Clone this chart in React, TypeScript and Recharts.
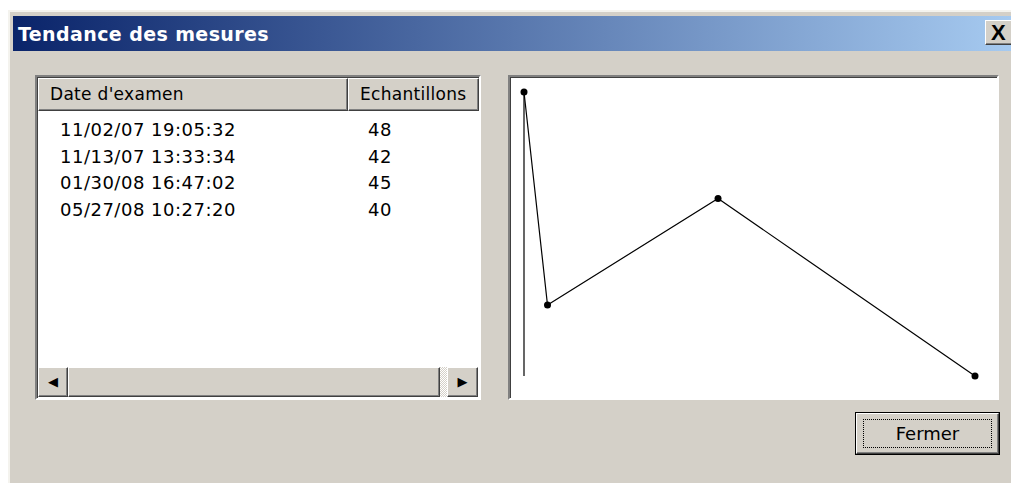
import { LineChart, Line, XAxis, YAxis } from 'recharts';

const examDates = [
  '11/02/07 19:05:32',
  '11/13/07 13:33:34',
  '01/30/08 16:47:02',
  '05/27/08 10:27:20'
];
const sampleCounts = [48, 42, 45, 40];
const yDomain = [40, 48];

const toTime = (s: string) => {
  const [d, t] = s.split(' ');
  const [mm, dd, yy] = d.split('/').map(Number);
  const [h, m, sec] = t.split(':').map(Number);
  return Date.UTC(2000 + yy, mm - 1, dd, h, m, sec);
};

const data = examDates.map((d, i) => ({ t: toTime(d), n: sampleCounts[i] }));

const gray = '#D4D0C8';
const font = '"DejaVu Sans", Tahoma, sans-serif';

const raised = {
  borderTop: '1px solid #fff',
  borderLeft: '1px solid #fff',
  borderRight: '1px solid #404040',
  borderBottom: '1px solid #404040',
  boxShadow: 'inset -1px -1px 0 #808080',
  background: gray,
  boxSizing: 'border-box' as const
};

const sunken = {
  borderTop: '2px solid #808080',
  borderLeft: '2px solid #808080',
  borderRight: '2px solid #fff',
  borderBottom: '2px solid #fff',
  boxShadow: 'inset 1px 1px 0 #404040',
  boxSizing: 'border-box' as const
};

const abs = (left: number, top: number, width: number, height: number) => ({
  position: 'absolute' as const,
  left,
  top,
  width,
  height
});

export default function App() {
  return (
    <div style={{ position: 'absolute', left: 0, top: 0, width: 1011, height: 483, background: '#fff', overflow: 'hidden', fontFamily: font }}>
      {/* window */}
      <div style={{ ...abs(8, 10, 1020, 490), background: gray, borderTop: '2px solid #f4f3ee', borderLeft: '2px solid #f4f3ee', boxSizing: 'border-box' }} />
      {/* title bar */}
      <div style={{ ...abs(13, 16, 998, 35), background: 'linear-gradient(to right, #0A246A, #A6CAF0)' }} />
      <div style={{ ...abs(18, 22, 400, 24), color: '#fff', fontWeight: 'bold', fontSize: 19, lineHeight: '24px', whiteSpace: 'nowrap', letterSpacing: 0.4 }}>
        Tendance des mesures
      </div>
      <div style={{ ...abs(985, 20, 30, 25), ...raised, fontFamily: '"Liberation Sans", Arial, sans-serif', fontSize: 22, fontWeight: 'bold', lineHeight: '23px', paddingLeft: 5 }}>
        X
      </div>

      {/* list view */}
      <div style={{ ...abs(35, 75, 446, 325), ...sunken, background: '#fff' }} />
      <div style={{ ...abs(38, 78, 310, 33), ...raised, fontSize: 17, lineHeight: '31px', paddingLeft: 11, whiteSpace: 'nowrap', letterSpacing: 0.3 }}>
        Date d'examen
      </div>
      <div style={{ ...abs(348, 78, 131, 33), ...raised, fontSize: 17, lineHeight: '31px', paddingLeft: 11, whiteSpace: 'nowrap', overflow: 'hidden', letterSpacing: 0.3 }}>
        Echantillons
      </div>
      {examDates.map((d, i) => (
        <div key={d}>
          <div style={{ ...abs(60, 117 + i * 26.7, 280, 26), fontSize: 18, lineHeight: '26px', letterSpacing: 0.5, whiteSpace: 'nowrap' }}>{d}</div>
          <div style={{ ...abs(368, 117 + i * 26.7, 60, 26), fontSize: 18, lineHeight: '26px', letterSpacing: 0.5 }}>{sampleCounts[i]}</div>
        </div>
      ))}
      {/* scrollbar */}
      <div style={{ ...abs(38, 367, 440, 30), background: 'repeating-conic-gradient(#fff 0 25%, ' + gray + ' 0 50%) 0 0 / 2px 2px' }} />
      <div style={{ ...abs(38, 367, 30, 30), ...raised, fontSize: 13, lineHeight: '28px', textAlign: 'center' }}>◀</div>
      <div style={{ ...abs(68, 367, 372, 30), ...raised }} />
      <div style={{ ...abs(447, 367, 31, 30), ...raised, fontSize: 13, lineHeight: '28px', textAlign: 'center' }}>▶</div>

      {/* chart frame */}
      <div style={{ ...abs(508, 75, 491, 325), ...sunken, background: '#fff' }} />
      <div style={{ ...abs(510, 77, 487, 321) }}>
        <LineChart width={487} height={321} data={data} margin={{ top: 15, right: 22, bottom: 22, left: 12 }}>
          <XAxis dataKey="t" type="number" domain={['dataMin', 'dataMax']} hide />
          <YAxis type="number" domain={yDomain} width={2} tick={false} tickLine={false} axisLine={{ stroke: '#000', strokeWidth: 1.2 }} />
          <Line
            type="linear"
            dataKey="n"
            stroke="#000"
            strokeWidth={1.2}
            dot={{ r: 3.5, fill: '#000', stroke: '#000', strokeWidth: 0 }}
            isAnimationActive={false}
          />
        </LineChart>
      </div>

      {/* close button */}
      <div style={{ ...abs(855, 412, 145, 43), border: '1px solid #000', background: gray, boxSizing: 'border-box' }}>
        <div style={{ ...abs(0, 0, 143, 41), ...raised }} />
        <div style={{ ...abs(7, 6, 129, 29), border: '1px dotted #000', boxSizing: 'border-box', fontSize: 18, lineHeight: '27px', textAlign: 'center' }}>
          Fermer
        </div>
      </div>
    </div>
  );
}
